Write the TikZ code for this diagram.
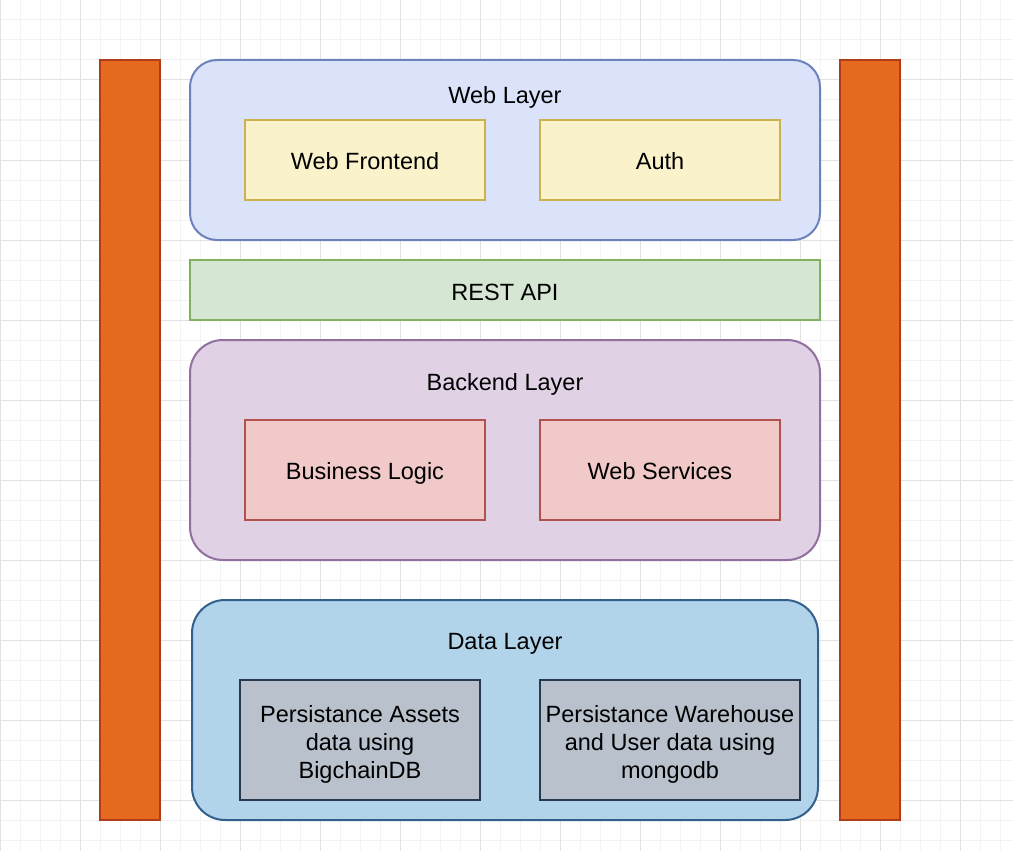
\documentclass[tikz,border=0pt]{standalone}
\usepackage{fontspec}
\setmainfont{Liberation Sans}
\definecolor{orfill}{HTML}{E5691F}
\definecolor{ordraw}{HTML}{B03D17}
\definecolor{bluefill}{HTML}{DAE3F9}
\definecolor{bluedraw}{HTML}{6C82BC}
\definecolor{yelfill}{HTML}{F9F2CB}
\definecolor{yeldraw}{HTML}{CCB24F}
\definecolor{grnfill}{HTML}{D5E6D2}
\definecolor{grndraw}{HTML}{7FB160}
\definecolor{purfill}{HTML}{E0D1E5}
\definecolor{purdraw}{HTML}{91709F}
\definecolor{redfill}{HTML}{F0C9C8}
\definecolor{reddraw}{HTML}{B0524D}
\definecolor{datfill}{HTML}{B1D4EA}
\definecolor{datdraw}{HTML}{335F8D}
\definecolor{gryfill}{HTML}{B8C1CC}
\definecolor{grydraw}{HTML}{2A3A4E}
\definecolor{minorgrid}{HTML}{F3F3F3}
\definecolor{majorgrid}{HTML}{E2E2E2}
\begin{document}
\begin{tikzpicture}[x=1pt,y=-1pt,
  txt/.style={font=\fontsize{23.5}{28}\selectfont, text=black, inner sep=0pt, align=center},
  btxt/.style={txt, anchor=base},
  layer/.style={line width=2pt, rounded corners=#1},
  plain/.style={line width=2pt}
]
\useasboundingbox (0,0) rectangle (1013,851);
\fill[white] (0,0) rectangle (1013,851);
% grid
\foreach \i in {0,20,...,1000} \draw[minorgrid, line width=1pt] (\i,0) -- (\i,851);
\foreach \j in {0,20,...,840} \draw[minorgrid, line width=1pt] (0,\j) -- (1013,\j);
\foreach \i in {0,80,...,960} \draw[majorgrid, line width=1pt] (\i,0) -- (\i,851);
\foreach \j in {0,80,...,800} \draw[majorgrid, line width=1pt] (0,\j) -- (1013,\j);

% side bars
\draw[plain, draw=ordraw, fill=orfill] (100,60) rectangle (160,820);
\draw[plain, draw=ordraw, fill=orfill] (840,60) rectangle (900,820);

% Web layer
\draw[layer=27, draw=bluedraw, fill=bluefill] (190,60) rectangle (820,240);
\node[btxt] (weblayer) at (505,103) {Web Layer};
\draw[plain, draw=yeldraw, fill=yelfill] (245,120) rectangle (485,200);
\node[btxt] (webfront) at (365,169) {Web Frontend};
\draw[plain, draw=yeldraw, fill=yelfill] (540,120) rectangle (780,200);
\node[btxt] (auth) at (660,169) {Auth};

% REST API
\draw[plain, draw=grndraw, fill=grnfill] (190,260) rectangle (820,320);
\node[btxt] (rest) at (505,300) {REST API};

% Backend layer
\draw[layer=33, draw=purdraw, fill=purfill] (190,340) rectangle (820,560);
\node[btxt] (backend) at (505,390) {Backend Layer};
\draw[plain, draw=reddraw, fill=redfill] (245,420) rectangle (485,520);
\node[btxt] (logic) at (365,479) {Business Logic};
\draw[plain, draw=reddraw, fill=redfill] (540,420) rectangle (780,520);
\node[btxt] (services) at (660,479) {Web Services};

% Data layer
\draw[layer=33, draw=datdraw, fill=datfill] (192,600) rectangle (818,820);
\node[btxt] (datalayer) at (505,649) {Data Layer};
\draw[plain, draw=grydraw, fill=gryfill] (240,680) rectangle (480,800);
\node[txt] (assets) at (360,744) {Persistance Assets\\data using\\BigchainDB};
\draw[plain, draw=grydraw, fill=gryfill] (540,680) rectangle (800,800);
\node[txt] (warehouse) at (670,744) {Persistance Warehouse\\and User data using\\mongodb};
\end{tikzpicture}
\end{document}
